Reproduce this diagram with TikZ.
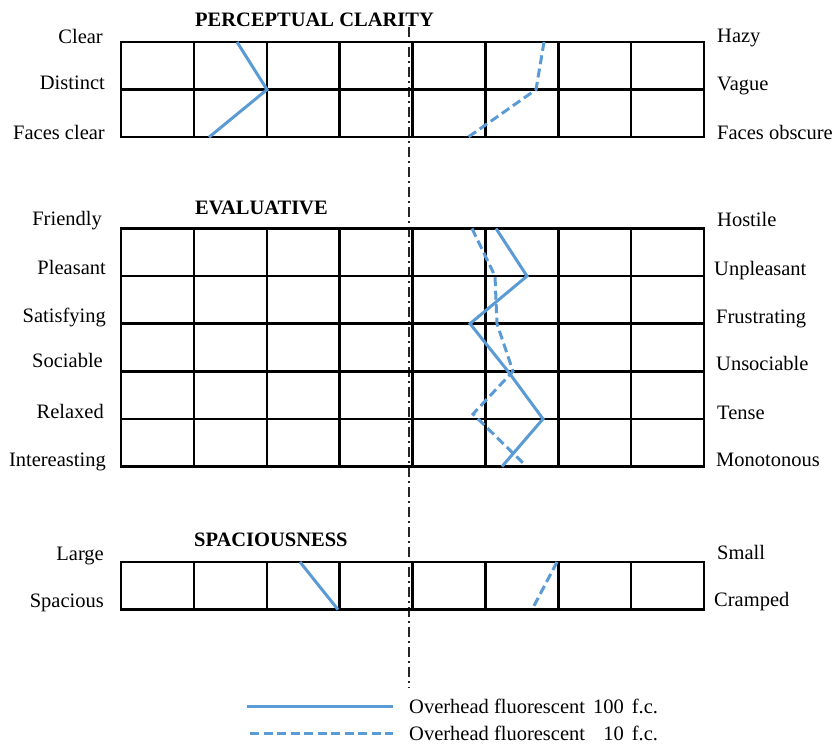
\documentclass[tikz,border=0pt]{standalone}
\usepackage{fontspec}
\setmainfont{Liberation Serif}
\definecolor{seriesblue}{HTML}{5B9BD5}
\begin{document}
\begin{tikzpicture}[x=1pt,y=-1pt,
  every node/.style={inner sep=0pt, font=\fontsize{20.5}{24}\selectfont},
  gridline/.style={black, line width=2.5pt, line cap=rect},
  highlevel/.style={seriesblue, line width=3pt},
  lowlevel/.style={seriesblue, line width=3pt, dash pattern=on 9pt off 4.5pt},
  centreaxis/.style={black!85, line width=1.1pt, dash pattern=on 10pt off 4pt on 1.5pt off 4.5pt},
  leftlab/.style={anchor=base east},
  rightlab/.style={anchor=base west},
  heading/.style={anchor=base west, font=\fontsize{20.5}{24}\selectfont\bfseries}]
\useasboundingbox (0,0) rectangle (834,744);

% neutral centre line of the scales
\coordinate (axtop) at (409,27);
\coordinate (axbot) at (409,688);
\draw[centreaxis] (axtop) -- (axbot);

% rating grids: 8 columns, rows of 47.6
\foreach \gtop/\rows in {42/2, 228.5/5, 562/1} {
  \pgfmathsetmacro\gbottom{\gtop+47.6*\rows}
  \foreach \i in {0,...,8}
    \draw[gridline] (121+72.875*\i,\gtop) -- (121+72.875*\i,\gbottom);
  \foreach \j in {0,...,\rows}
    \draw[gridline] (121,\gtop+47.6*\j) -- (704,\gtop+47.6*\j);
}

% headings
\node[heading] (hpc) at (195,26) {PERCEPTUAL CLARITY};
\node[heading] (hev) at (195,214) {EVALUATIVE};
\node[heading] (hsp) at (194,546) {SPACIOUSNESS};

% perceptual clarity scales
\node[leftlab] (pl1) at (103,43) {Clear};
\node[leftlab] (pl2) at (105,89) {Distinct};
\node[leftlab] (pl3) at (105,139) {Faces clear};
\node[rightlab] (pr1) at (717,42) {Hazy};
\node[rightlab] (pr2) at (717,90) {Vague};
\node[rightlab] (pr3) at (717,139) {Faces obscure};

% evaluative scales
\node[leftlab] (el1) at (102,225) {Friendly};
\node[leftlab] (el2) at (106,274) {Pleasant};
\node[leftlab] (el3) at (106,322) {Satisfying};
\node[leftlab] (el4) at (103,367) {Sociable};
\node[leftlab] (el5) at (104,418) {Relaxed};
\node[leftlab] (el6) at (106,466) {Intereasting};
\node[rightlab] (er1) at (717,226) {Hostile};
\node[rightlab] (er2) at (714,275) {Unpleasant};
\node[rightlab] (er3) at (716,323) {Frustrating};
\node[rightlab] (er4) at (716,370) {Unsociable};
\node[rightlab] (er5) at (717,419) {Tense};
\node[rightlab] (er6) at (716,466) {Monotonous};

% spaciousness scales
\node[leftlab] (sl1) at (104,560) {Large};
\node[leftlab] (sl2) at (104,607) {Spacious};
\node[rightlab] (sr1) at (717,559) {Small};
\node[rightlab] (sr2) at (714,606) {Cramped};

% profiles at 100 f.c.
\draw[highlevel] (237,42) -- (267,89.6) -- (209,137.2);
\draw[highlevel] (496,228.5) -- (527,276.1) -- (470,323.7) -- (508,371.3) -- (543,418.9) -- (502,466.5);
\draw[highlevel] (300,562) -- (338,609.6);

% profiles at 10 f.c.
\draw[lowlevel] (544,42) -- (536,89.6) -- (468,137.2);
\draw[lowlevel] (472,228.5) -- (495,276.1) -- (497,323.7) -- (513,371.3) -- (473,414) -- (523,463);
\draw[lowlevel] (557,562) -- (532,609.6);

% legend
\coordinate (k1a) at (247,706);
\coordinate (k1b) at (393,706);
\coordinate (k2a) at (250,733);
\coordinate (k2b) at (393,733);
\draw[highlevel] (k1a) -- (k1b);
\draw[lowlevel] (k2a) -- (k2b);
\node[anchor=base west] (key1) at (409,713) {Overhead fluorescent\hspace{8pt}100\hspace{8pt}f.c.};
\node[anchor=base west] (key2) at (409,740) {Overhead fluorescent\hspace{8pt}\phantom{1}10\hspace{8pt}f.c.};
\end{tikzpicture}
\end{document}
